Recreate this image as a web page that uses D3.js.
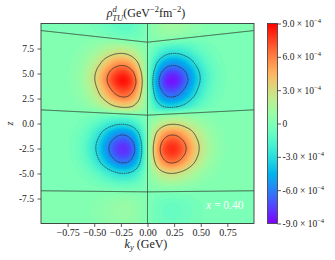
<!DOCTYPE html>
<html><head><meta charset="utf-8">
<script src="https://cdn.jsdelivr.net/npm/d3@7"></script>
<style>body{margin:0;background:#fff}svg{display:block}text{font-family:"Liberation Serif","DejaVu Serif",serif;fill:#222}</style>
</head><body>
<svg id="c" width="335" height="260"></svg>
<script>
// ---------------- data ----------------
const kyTicks = [-0.75, -0.5, -0.25, 0, 0.25, 0.5, 0.75];
const kyTickLabels = ["\u22120.75", "\u22120.50", "\u22120.25", "0.00", "0.25", "0.50", "0.75"];
const zTicks = [7.5, 5, 2.5, 0, -2.5, -5, -7.5];
const zTickLabels = ["7.5", "5.0", "2.5", "0.0", "-2.5", "-5.0", "-7.5"];
const cbTicks = [9e-4, 6e-4, 3e-4, 0, -3e-4, -6e-4, -9e-4];
const cbMantissa = ["9.0", "6.0", "3.0", "0", "-3.0", "-6.0", "-9.0"];
const contourLevels = [-6e-4, -3e-4, 0, 3e-4, 6e-4];
const colorRange = [-9e-4, 9e-4];
const peakValue = 8.6e-4;
const xValueLabel = "0.40";

// transverse profile |k_y| -> relative strength (odd in k_y)
const kyAbsGrid = [0, 0.05, 0.1, 0.15, 0.2, 0.25, 0.3, 0.35, 0.4, 0.45, 0.5, 0.55, 0.6, 0.65, 0.7, 0.75, 0.8, 0.85, 0.9, 0.95, 1.0, 1.05, 1.1];
const kyProfile = [0, 0.350, 0.653, 0.870, 0.982, 0.992, 0.918, 0.787, 0.631, 0.475, 0.336, 0.225, 0.142, 0.085, 0.048, 0.026, 0.0134, 0.0065, 0.0030, 0.0013, 0.0006, 0.0003, 0.0001];

// longitudinal profile along z (at k_y -> 0)
const zGrid = [-10.5, -10, -9.5, -9, -8.5, -8, -7.5, -7, -6.5, -6, -5.5, -5, -4.5, -4, -3.5, -3, -2.5, -2, -1.5, -1, -0.5, 0, 0.5, 1, 1.5, 2, 2.5, 3, 3.5, 4, 4.5, 5, 5.5, 6, 6.5, 7, 7.5, 8, 8.5, 9, 9.5, 10, 10.5];
const zProfile = [0.07, 0.08, 0.09, 0.10, 0.10, 0.09, 0.06, 0.02, -0.05, -0.14, -0.25, -0.36, -0.53, -0.70, -0.82, -0.91, -0.93, -0.87, -0.76, -0.63, -0.45, -0.29, -0.14, 0.08, 0.36, 0.53, 0.70, 0.82, 0.93, 1.00, 0.97, 0.87, 0.72, 0.58, 0.42, 0.29, 0.17, 0.03, -0.07, -0.11, -0.14, -0.15, -0.15];

// nodal lines in z: position at k_y = 0 and at |k_y| = 1
const nodeZCenter = [8.15, 0.82, -6.86];
const nodeZEdge = [9.32, 1.35, -6.75];

// ---------------- helpers ----------------
function catmull(grid, vals, v) {
  const n = vals.length, step = grid[1] - grid[0];
  const u = (v - grid[0]) / step;
  if (u <= 0) return vals[0];
  if (u >= n - 1) return vals[n - 1];
  const i = Math.floor(u), t = u - i;
  const p0 = vals[Math.max(i - 1, 0)], p1 = vals[i], p2 = vals[i + 1], p3 = vals[Math.min(i + 2, n - 1)];
  return 0.5 * (2 * p1 + (-p0 + p2) * t + (2 * p0 - 5 * p1 + 4 * p2 - p3) * t * t + (-p0 + 3 * p1 - 3 * p2 + p3) * t * t * t);
}
// odd full-range transverse arrays
const kyFull = kyAbsGrid.slice(1).reverse().map(v => -v).concat(kyAbsGrid);
const hFull = kyProfile.slice(1).reverse().map(v => -v).concat(kyProfile);

function warpZ(z, t) {
  const zs = nodeZCenter.map((c, k) => c + (nodeZEdge[k] - c) * t);
  if (z >= zs[0]) return z - (zs[0] - nodeZCenter[0]);
  if (z <= zs[2]) return z - (zs[2] - nodeZCenter[2]);
  const k = z >= zs[1] ? 0 : 1;
  return nodeZCenter[k + 1] + (z - zs[k + 1]) / (zs[k] - zs[k + 1]) * (nodeZCenter[k] - nodeZCenter[k + 1]);
}
function field(ky, z) {
  const t = Math.min(Math.abs(ky), 1);
  return -peakValue * catmull(kyFull, hFull, ky) * catmull(zGrid, zProfile, warpZ(z, t));
}
function rainbow(v) {
  v = Math.max(0, Math.min(1, v));
  const r = Math.min(1, Math.abs(2 * v - 0.5)), g = Math.sin(Math.PI * v), b = Math.cos(Math.PI * v / 2);
  return d3.rgb(r * 255, g * 255, b * 255).formatHex();
}

// ---------------- layout ----------------
const svg = d3.select("#c");
const plotL = 41, plotR = 254, plotT = 23.5, plotB = 223.5;
const x = d3.scaleLinear().domain([-1, 1]).range([plotL, plotR]);
const y = d3.scaleLinear().domain([-10, 10]).range([plotB, plotT]);
const color = d3.scaleSequential(rainbow).domain(colorRange);

svg.append("defs").append("clipPath").attr("id", "clip")
  .append("rect").attr("x", plotL).attr("y", plotT).attr("width", plotR - plotL).attr("height", plotB - plotT);

// grid sampled on pixel centres (slightly larger than the axes)
const gx0 = 37, gy0 = 19, nx = 222, ny = 210;
const values = new Float64Array(nx * ny);
for (let j = 0; j < ny; j++) {
  const z = y.invert(gy0 + j + 0.5);
  for (let i = 0; i < nx; i++) {
    values[j * nx + i] = field(x.invert(gx0 + i + 0.5), z);
  }
}
const path = d3.geoPath();
const plotG = svg.append("g").attr("clip-path", "url(#clip)");
const inner = plotG.append("g").attr("transform", `translate(${gx0},${gy0})`);

const fillStep = 2.5e-5;
const fillLevels = d3.range(colorRange[0], colorRange[1] - fillStep / 2, fillStep);
inner.selectAll("path.f")
  .data(d3.contours().size([nx, ny]).thresholds(fillLevels)(values))
  .join("path").attr("class", "f")
  .attr("d", path)
  .attr("fill", d => color(d.value + fillStep / 2))
  .attr("stroke", d => color(d.value + fillStep / 2))
  .attr("stroke-width", 0.3);

inner.selectAll("path.l")
  .data(d3.contours().size([nx, ny]).thresholds(contourLevels)(values))
  .join("path").attr("class", "l")
  .attr("d", path)
  .attr("fill", "none")
  .attr("stroke", "#2a2a2a")
  .attr("stroke-width", 0.75)
  .attr("stroke-dasharray", d => d.value < 0 ? "1.6,0.6" : null);

// x = 0.40 annotation
const ann = svg.append("text").attr("x", 243.5).attr("y", 209.3).attr("text-anchor", "end")
  .style("font-size", "11.5px").style("fill", "#fff");
ann.append("tspan").style("font-style", "italic").text("x");
ann.append("tspan").text(" = " + xValueLabel);

// frame
svg.append("rect").attr("x", plotL).attr("y", plotT).attr("width", plotR - plotL).attr("height", plotB - plotT)
  .attr("fill", "none").attr("stroke", "#3a3a3a").attr("stroke-width", 0.9);

// axes
const xAxis = svg.append("g").attr("transform", `translate(0,${plotB})`)
  .call(d3.axisBottom(x).tickValues(kyTicks).tickFormat((d, i) => kyTickLabels[i]).tickSize(3.5).tickPadding(1.5));
const yAxis = svg.append("g").attr("transform", `translate(${plotL},0)`)
  .call(d3.axisLeft(y).tickValues(zTicks).tickFormat((d, i) => zTickLabels[i]).tickSize(3.5).tickPadding(3.5));
[xAxis, yAxis].forEach(a => {
  a.select(".domain").remove();
  a.selectAll(".tick line").attr("stroke", "#333").attr("stroke-width", 0.8);
  a.selectAll(".tick text").attr("fill", "#222").style("font-family", '"Liberation Serif",serif');
});
xAxis.selectAll(".tick text").style("font-size", "10px");
yAxis.selectAll(".tick text").style("font-size", "9.5px");

// axis labels
const xl = svg.append("text").attr("x", 146).attr("y", 247.5).attr("text-anchor", "middle").style("font-size", "12px");
xl.append("tspan").style("font-style", "italic").text("k");
xl.append("tspan").style("font-style", "italic").style("font-size", "8.5px").attr("dy", 2.5).text("y");
xl.append("tspan").attr("dy", -2.5).text(" (GeV)");

svg.append("text").attr("transform", "translate(12.5,123.5) rotate(-90)").attr("text-anchor", "middle")
  .style("font-size", "10px").style("font-style", "italic").text("z");

// title
const tt = svg.append("text").attr("x", 146).attr("y", 17).attr("text-anchor", "middle").style("font-size", "12px");
tt.append("tspan").style("font-style", "italic").text("\u03c1");
tt.append("tspan").style("font-style", "italic").style("font-size", "8.5px").attr("dy", -5.5).text("d");
tt.append("tspan").style("font-style", "italic").style("font-size", "8.5px").attr("dx", -4.3).attr("dy", 9).text("TU");
tt.append("tspan").attr("dy", -3.5).text("(GeV");
tt.append("tspan").style("font-size", "8.5px").attr("dy", -5).text("\u22122");
tt.append("tspan").attr("dy", 5).text("fm");
tt.append("tspan").style("font-size", "8.5px").attr("dy", -5).text("\u22122");
tt.append("tspan").attr("dy", 5).text(")");

// colorbar
const cbL = 267.5, cbW = 10;
const cy = d3.scaleLinear().domain(colorRange).range([plotB, plotT]);
const grad = svg.select("defs").append("linearGradient").attr("id", "cbg")
  .attr("x1", 0).attr("y1", 1).attr("x2", 0).attr("y2", 0);
d3.range(0, 41).forEach(i => {
  grad.append("stop").attr("offset", i / 40)
    .attr("stop-color", color(colorRange[0] + (colorRange[1] - colorRange[0]) * i / 40));
});
svg.append("rect").attr("x", cbL).attr("y", plotT).attr("width", cbW).attr("height", plotB - plotT)
  .attr("fill", "url(#cbg)").attr("stroke", "#3a3a3a").attr("stroke-width", 0.8);
const cbAxis = svg.append("g").attr("transform", `translate(${cbL + cbW},0)`)
  .call(d3.axisRight(cy).tickValues(cbTicks).tickSize(3.5).tickFormat(""));
cbAxis.select(".domain").remove();
cbAxis.selectAll(".tick line").attr("stroke", "#333").attr("stroke-width", 0.8);
cbAxis.selectAll(".tick").each(function (d, i) {
  const t = d3.select(this).append("text").attr("x", 5).attr("dy", "0.32em")
    .attr("fill", "#222").style("font-size", "9.5px").attr("text-anchor", "start");
  t.append("tspan").text(cbMantissa[i]);
  if (d !== 0) {
    t.append("tspan").text(" \u00d7 10");
    t.append("tspan").style("font-size", "6.5px").attr("dy", -4).text("\u22124");
  }
});
</script>
</body></html>
